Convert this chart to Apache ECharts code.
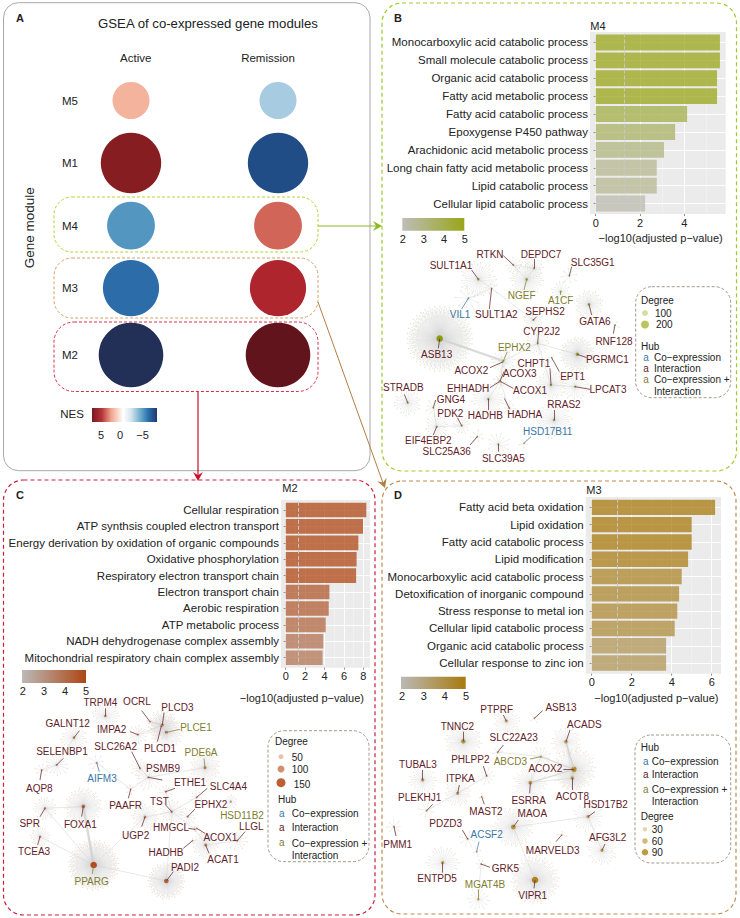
<!DOCTYPE html>
<html><head><meta charset="utf-8">
<style>html,body{margin:0;padding:0;background:#fff}#c{width:740px;height:918px}</style>
<script src="https://cdn.jsdelivr.net/npm/echarts@6/dist/echarts.min.js"></script>
</head><body><div id="c"></div>
<script>
// ---------- Panel A values ----------
const moduleNames = ['M5','M1','M4','M3','M2'];
const conditions = ['Active','Remission'];
const nesActive = [1.86,5.2,-3.4,-4.6,-5.8];
const nesRemission = [-1.86,-5.2,3.4,4.6,5.8];
const nesTicks = ['5','0','−5'];
// ---------- Bar panels ----------
const termsB = ['Monocarboxylic acid catabolic process','Small molecule catabolic process','Organic acid catabolic process','Fatty acid metabolic process','Fatty acid catabolic process','Epoxygense P450 pathway','Arachidonic acid metabolic process','Long chain fatty acid metabolic process','Lipid catabolic process','Cellular lipid catabolic process'];
const valuesB = [5.6,5.6,5.47,5.47,4.12,3.58,3.08,2.75,2.75,2.23];
const termsC = ['Cellular respiration','ATP synthsis coupled electron transport','Energy derivation by oxidation of organic compounds','Oxidative phosphorylation','Respiratory electron transport chain','Electron transport chain','Aerobic respiration','ATP metabolic process','NADH dehydrogenase complex assembly','Mitochondrial respiratory chain complex assembly'];
const valuesC = [8.3,7.96,7.48,7.3,7.25,4.5,4.43,4.12,3.87,3.8];
const termsD = ['Fatty acid beta oxidation','Lipid oxidation','Fatty acid catabolic process','Lipid modification','Monocarboxylic acid catabolic process','Detoxification of inorganic compound','Stress response to metal ion','Cellular lipid catabolic process','Organic acid catabolic process','Cellular response to zinc ion'];
const valuesD = [6.17,5.0,5.0,4.82,4.5,4.37,4.28,4.15,3.72,3.72];
const pThreshold = 1.3;
// ---------- Networks: gene, kind (c co-expression, i interaction, b both), degree ----------
const genesB = ['SULT1A1','RTKN','DEPDC7','SLC35G1','NGEF','A1CF','VIL1','SULT1A2','SEPHS2','GATA6','RNF128','ASB13','CYP2J2','EPHX2','PGRMC1','ACOX2','ACOX3','CHPT1','EPT1','ACOX1','EHHADH','LPCAT3','STRADB','GNG4','PDK2','HADHB','HADHA','RRAS2','HSD17B11','EIF4EBP2','SLC25A36','SLC39A5'];
const kindsB = ['i','i','i','i','b','b','c','i','i','i','i','i','i','b','i','i','i','i','i','i','i','i','i','i','i','i','i','i','c','i','i','i'];
const degreesB = [35,12,18,8,40,16,9,5,18,38,4,200,22,22,70,6,10,36,3,5,4,24,26,9,14,30,8,36,5,20,7,14];
const genesC = ['TRPM4','OCRL','PLCD3','GALNT12','IMPA2','PLCE1','PLCD1','SELENBP1','SLC26A2','PDE6A','AIFM3','PSMB9','AQP8','ETHE1','SLC4A4','PAAFR','TST','EPHX2','SPR','FOXA1','UGP2','HSD11B2','HMGCL','LLGL','ACOX1','HADHB','ACAT1','TCEA3','PPARG','PADI2'];
const kindsC = ['i','i','i','i','i','b','i','i','i','b','c','i','i','i','i','i','i','i','i','i','i','b','i','i','i','i','i','i','b','i'];
const degreesC = [28,5,45,26,15,50,20,16,14,40,8,18,8,10,10,6,24,12,24,65,30,12,4,14,4,4,36,22,150,90];
const genesD = ['PTPRF','ASB13','TNNC2','ACADS','SLC22A23','PHLPP2','ABCD3','TUBAL3','ACOX2','ITPKA','ACOT8','ESRRA','PLEKHJ1','MAST2','MAOA','HSD17B2','PDZD3','ACSF2','PMM1','MARVELD3','AFG3L2','GRK5','ENTPD5','MGAT4B','VIPR1'];
const kindsD = ['i','i','i','i','i','i','b','i','i','i','i','i','i','i','i','i','i','c','i','i','i','i','i','b','i'];
const degreesD = [26,4,50,34,6,10,14,28,70,28,34,38,8,3,55,28,8,4,8,4,28,6,30,14,90];
const linksB = [['ASB13','EPHX2',2.2],['SULT1A1','SULT1A2'],['SULT1A2','SEPHS2'],['RTKN','NGEF'],['DEPDC7','NGEF'],['RTKN','DEPDC7'],['CYP2J2','CHPT1'],['EPHX2','ACOX3'],['CYP2J2','EPHX2'],['CHPT1','LPCAT3'],['ACOX3','HADHB'],['ACOX3','HADHA'],['PDK2','EIF4EBP2'],['VIL1','SULT1A2'],['PGRMC1','CYP2J2'],['GNG4','EIF4EBP2'],['ACOX1','ACOX2']];
const linksC = [['PPARG','FOXA1',2.4],['PPARG','PADI2'],['PPARG','UGP2'],['PPARG','SPR'],['PPARG','TCEA3'],['FOXA1','SPR'],['IMPA2','PLCD3'],['PSMB9','PDE6A'],['PAAFR','PSMB9'],['ETHE1','TST'],['TST','UGP2'],['TST','HMGCL'],['HMGCL','ACAT1'],['PADI2','TST'],['SLC26A2','PSMB9'],['OCRL','PLCD3',1.2],['PLCD1','PLCE1',1.2],['ACAT1','LLGL'],['AIFM3','PAAFR'],['SLC4A4','TST'],['AQP8','SELENBP1'],['GALNT12','SELENBP1']];
const linksD = [['ACOX2','ACOT8',1.6],['ACOX2','ACADS',1.6],['ACOX2','ABCD3',1.2],['ESRRA','ACOX2',1.2],['ABCD3','SLC22A23'],['MAOA','HSD17B2'],['MAOA','VIPR1'],['ESRRA','ACOT8'],['ACADS','ACOT8'],['PHLPP2','ITPKA'],['ITPKA','PLEKHJ1'],['HSD17B2','AFG3L2'],['ABCD3','ESRRA'],['GRK5','MGAT4B']];

// ---------- Layout (zoom-crop units: page = origin + unit/3): label x,y, hub x,y, fan radius, leader end x,y ----------
const layoutB = [[243,92,325,133,55,305,105],[360,58,430,90,25,400,62],[513,57,492,100,30,492,72],[668,82,598,122,25,605,95],[455,181,470,133,50,462,165],[572,197,572,170,30,572,180],[270,239,295,190,40,275,222],[379,237,365,160,20,358,222],[525,229,490,255,30,500,245],[675,260,657,208,42,665,240],[732,319,735,270,15,730,296],[200,359,209,311,98,205,340],[515,288,503,325,35,505,300],[433,337,400,378,35,412,350],[712,374,622,358,52,650,368],[304,407,398,381,15,360,398],[449,416,390,438,20,402,410],[492,385,543,450,45,540,400],[608,424,545,368,10,568,410],[480,466,392,440,15,430,460],[294,459,388,440,10,360,458],[714,463,615,455,40,660,463],[100,457,113,503,40,103,478],[243,494,190,518,25,197,495],[241,535,275,572,25,262,548],[346,541,355,492,50,355,525],[464,538,418,520,20,403,490],[582,509,552,555,55,552,525],[533,588,462,625,15,483,605],[175,617,200,575,35,190,600],[230,650,322,605,20,300,630],[400,669,385,628,35,385,650]];
const layoutC = [[301,38,316,78,40,316,55],[411,34,450,95,10,425,62],[532,51,487,105,45,492,68],[203,101,222,143,40,238,122],[335,118,414,134,30,390,125],[588,113,499,127,50,540,118],[480,175,484,108,30,472,155],[186,185,170,225,35,190,205],[347,168,420,235,30,395,185],[603,188,615,233,45,612,205],[306,264,290,218,25,298,245],[489,234,445,262,40,487,270],[118,295,125,240,20,120,270],[570,276,497,305,20,525,295],[685,288,590,322,20,622,295],[377,345,392,298,15,385,325],[478,335,515,365,35,497,345],[633,344,563,380,25,585,357],[89,399,135,355,35,120,380],[241,402,250,349,55,245,380],[407,437,435,381,40,425,410],[726,376,692,335,20,692,335],[513,412,585,418,10,565,415],[754,409,712,452,30,735,425],[661,442,590,415,10,615,430],[498,487,578,452,10,550,475],[669,509,617,465,40,627,490],[102,483,120,440,30,113,465],[275,573,281,525,75,277,552],[555,533,499,573,55,520,545]];
const layoutD = [[365,59,394,93,40,385,75],[558,51,478,85,15,503,62],[247,108,265,154,55,265,125],[628,104,573,155,45,585,120],[416,143,368,187,15,385,165],[286,209,335,258,25,325,228],[406,214,498,200,30,465,207],[129,224,143,270,42,143,240],[511,235,597,238,65,565,238],[256,264,248,310,40,253,285],[592,318,592,264,40,592,300],[461,331,466,278,50,464,310],[134,323,155,362,25,173,343],[333,364,320,320,10,328,343],[472,370,415,411,60,430,390],[692,344,639,380,45,660,365],[212,400,278,447,25,262,420],[335,432,305,485,15,312,455],[68,463,57,410,22,63,438],[533,481,560,435,15,543,455],[698,441,681,481,45,690,462],[391,535,318,522,15,345,532],[186,566,203,518,50,203,548],[330,582,310,628,35,310,598],[473,617,480,570,72,477,595]];

// ---------- Styles & helpers ----------
const FONT='"Liberation Sans",Arial,sans-serif';
const KIND={c:'#3a77a5',i:'#5f2228',b:'#7f7d30'};
const lerp=(t,a,b)=>echarts.color.lerp(Math.max(0,Math.min(1,t)),[a,b]);
const G=[];
const txt=(x,y,s,o={})=>G.push({type:'text',silent:true,z:50,x,y,rotation:o.rot||0,style:{text:s,x:0,y:0,fill:o.color||'#222',font:`${o.weight||'normal'} ${o.size||10}px ${FONT}`,align:o.align||'left',verticalAlign:'middle'}});
const rrect=(x0,y0,x1,y1,r,color,dash,w)=>G.push({type:'rect',silent:true,z:-2,shape:{x:x0,y:y0,width:x1-x0,height:y1-y0,r},style:{fill:'none',stroke:color,lineWidth:w||1,lineDash:dash||null}});
const bg=(x0,y0,x1,y1)=>G.push({type:'rect',silent:true,z:-1,shape:{x:x0,y:y0,width:x1-x0,height:y1-y0},style:{fill:'#ebebeb'}});
const line=(pts,color,w)=>G.push({type:'polyline',silent:true,z:40,shape:{points:pts},style:{stroke:color,lineWidth:w||1,fill:'none'}});
const head=(tip,dx,dy,color,s)=>{const L=Math.hypot(dx,dy),ux=dx/L,uy=dy/L,px=-uy,py=ux,sz=s||9;
  G.push({type:'polygon',silent:true,z:41,shape:{points:[tip,[tip[0]-ux*sz+px*sz*.55,tip[1]-uy*sz+py*sz*.55],[tip[0]-ux*sz*.65,tip[1]-uy*sz*.65],[tip[0]-ux*sz-px*sz*.55,tip[1]-uy*sz-py*sz*.55]]},style:{fill:color}});};
const dot=(x,y,d,c)=>G.push({type:'circle',silent:true,z:45,shape:{cx:x,cy:y,r:d/2},style:{fill:c}});
const cbar=(x0,y0,x1,y1,stops,labels,ly)=>{G.push({type:'rect',silent:true,z:10,shape:{x:x0,y:y0,width:x1-x0,height:y1-y0},style:{fill:{type:'linear',x:0,y:0,x2:1,y2:0,global:false,colorStops:stops.map(s=>({offset:s[0],color:s[1]}))}}});
  labels.forEach(l=>txt(l[0],ly,l[1],{align:'center',size:11}));};

// frames
rrect(3.5,2.7,370,470.7,15,'#a9a9a9',null,1);
rrect(54,197,318,252,18,'#b5d334',[3,2],1);
rrect(54,258,318,318,18,'#d2a06c',[3,2],1);
rrect(54,322,318,391.5,20,'#d9314a',[3,2],1);
rrect(382,3,736.5,471,20,'#9ccb2d',[4,3],1.2);
rrect(3.5,480,375,915,20,'#c9213c',[4,3],1.2);
rrect(382,481,736,914,20,'#c08a4f',[4,3],1.2);
// arrows
line([[318,226],[378,226]],'#8bb920',1.2);head([382,226],1,0,'#8bb920');
line([[198,392],[198,476]],'#c8102e',1.2);head([198,481],0,1,'#c8102e');
line([[318,302],[383,483]],'#b07f45',1);head([385,488],.358,1,'#b07f45');
// panel letters & titles
txt(20,18,'A',{weight:'bold',size:11,align:'center'});txt(398,18,'B',{weight:'bold',size:11,align:'center'});
txt(20,495,'C',{weight:'bold',size:11,align:'center'});txt(398,495,'D',{weight:'bold',size:11,align:'center'});
txt(598,26,'M4',{size:11,align:'center'});txt(290,488,'M2',{size:11,align:'center'});txt(594,490,'M3',{size:11,align:'center'});
// plot backgrounds
bg(590,32,725.7,214);bg(281,500,370,667.7);bg(585.7,497,721,673.7);
// colourbars
cbar(92,408,157,422,[[0,'#7a1a20'],[.15,'#b5343a'],[.3,'#f0a98f'],[.48,'#ffffff'],[.6,'#d5e6ef'],[.8,'#4a94bf'],[.87,'#2c6ca9'],[1,'#22396f']],[[101,nesTicks[0]],[120,nesTicks[1]],[142.5,nesTicks[2]]],435);
txt(72,414,'NES',{size:11.5,align:'center'});
const cbarTicks=['2','3','4','5'];
cbar(402.3,218,464.3,230.7,[[0,'#bebdb9'],[1,'#98a618']],[402.7,423.7,444,464.7].map((x,i)=>[x,cbarTicks[i]]),239);
cbar(22,670,86,683,[[0,'#bbb9b7'],[1,'#ad4714']],[22.7,44,65,86].map((x,i)=>[x,cbarTicks[i]]),691);
cbar(401,676.7,465.7,689,[[0,'#bbb9b7'],[1,'#a87a0e']],[402,423.7,444.7,466].map((x,i)=>[x,cbarTicks[i]]),696);
// legends
const LG='#9a8c7c';
rrect(635.7,286.7,730.7,397.7,16,LG,[3,2],.9);
txt(641,300,'Degree');dot(645,313,6,'#d8dca0');txt(655,313,'100');dot(645,324.5,8,'#bcc45e');txt(656,324.5,'200');
txt(641,346,'Hub');
[[357.5,'c','Co−expression'],[368,'i','Interaction'],[379.5,'b','Co−expression +']].forEach(r=>{txt(646,r[0],'a',{color:KIND[r[1]],align:'center'});txt(654,r[0],r[2]);});txt(654,391,'Interaction');
rrect(268,730.7,369,861.7,16,LG,[3,2],.9);
txt(275,741,'Degree');dot(281,756.7,5,'#e6c2ac');txt(291.7,757,'50');dot(281,769,7,'#d29070');txt(291.7,769,'100');dot(281,782.7,9,'#bd5f35');txt(293.7,784,'150');
txt(278,799,'Hub');
[[813,'c','Co−expression'],[827.7,'i','Interaction'],[842,'b','Co−expression +']].forEach(r=>{txt(281.7,r[0],'a',{color:KIND[r[1]],align:'center'});txt(291.7,r[0]+(r[1]==='b'?1:0),r[2]);});txt(291.7,855,'Interaction');
rrect(635,735,730.7,863,16,LG,[3,2],.9);
txt(640.7,747.7,'Hub');
[[761.7,'c','Co−expression'],[774.7,'i','Interaction'],[789.3,'b','Co−expression +']].forEach(r=>{txt(645.7,r[0],'a',{color:KIND[r[1]],align:'center'});txt(651.7,r[0],r[2]);});txt(651.7,801.3,'Interaction');
txt(640.7,816,'Degree');
dot(645,829.3,4.5,'#e8d6ab');txt(651.7,829.3,'30');dot(645,841,5.5,'#d4b878');txt(651.7,841,'60');dot(645,852.3,6.5,'#c09a40');txt(651.7,852.3,'90');

// ---------- Bubble panel ----------
const nesStops=[[-5.8,'#222f57'],[-5.2,'#204d85'],[-4.6,'#2c6ca9'],[-3.4,'#5396c0'],[-1.86,'#a7cbe0'],[0,'#ffffff'],[1.86,'#f4b39d'],[3.4,'#d16558'],[4.6,'#ae252e'],[5.2,'#861d21'],[5.8,'#62141c']];
function nesColor(v){if(v<=nesStops[0][0])return nesStops[0][1];for(let i=1;i<nesStops.length;i++){if(v<=nesStops[i][0]){const a=nesStops[i-1],b=nesStops[i];return lerp((v-a[0])/(b[0]-a[0]),a[1],b[1]);}}return '#62141c';}
const rowPos=[0,1,2,3,4.07];
const bubbleData=[];
moduleNames.forEach((m,i)=>{bubbleData.push([0,rowPos[i],nesActive[i]]);bubbleData.push([1,rowPos[i],nesRemission[i]]);});

// ---------- Bars ----------
function barPanel(idx,terms,vals,high,low,box,xMax,xName,namePad){
  return {
    grid:{left:box[0],top:box[1],width:box[2]-box[0],height:box[3]-box[1]},
    x:{type:'value',gridIndex:idx,min:0,max:xMax,interval:2,offset:box[4]||0,name:xName,nameLocation:'middle',nameGap:box[5],
       nameTextStyle:{fontFamily:FONT,fontSize:11,color:'#222',padding:namePad||0},
       axisLine:{show:false},axisTick:{show:true,length:2,lineStyle:{color:'#666',width:.7}},
       axisLabel:{fontFamily:FONT,fontSize:11,color:'#222',margin:3,showMaxLabel:false,showMinLabel:true,formatter:v=>(v%2===0?String(v):'')},
       splitLine:{show:true,showMaxLine:false,lineStyle:{color:'#fff',width:.9}},
       minorTick:{show:false,splitNumber:2},minorSplitLine:{show:true,lineStyle:{color:'#f6f6f6',width:.5}}},
    y:{type:'category',gridIndex:idx,inverse:true,data:terms,offset:box[6],
       axisLine:{show:false},axisTick:{show:true,length:2,alignWithLabel:true,lineStyle:{color:'#666',width:.7}},
       axisLabel:{fontFamily:FONT,fontSize:box[7],color:'#222',margin:2,interval:0},splitLine:{show:false}},
    s:[
     {type:'line',xAxisIndex:idx,yAxisIndex:idx,data:[],silent:true,z:1,markLine:{z:1,silent:true,symbol:'none',animation:false,label:{show:false},lineStyle:{color:'#fff',width:.9,type:'solid'},data:terms.map(t=>({yAxis:t}))}},
     {type:'bar',xAxisIndex:idx,yAxisIndex:idx,name:'-log10(adjusted p-value)',z:3,barWidth:'89%',data:vals,
      itemStyle:{opacity:.75,color:p=>lerp((p.value-2)/3,low,high)}},
     {type:'line',xAxisIndex:idx,yAxisIndex:idx,data:[],silent:true,z:6,markLine:{z:6,silent:true,symbol:'none',animation:false,label:{show:false},lineStyle:{color:'#c6c6c6',width:1,type:[4,2]},data:[{xAxis:pThreshold}]}}
    ]
  };
}
const pB=barPanel(2,termsB,valuesB,'#98a618','#bebdb9',[595.7,33.5,725.7,212.5,1.5,18,5.7,11.5],5.86,'−log10(adjusted p−value)');
const pC=barPanel(3,termsC,valuesC,'#ad4714','#bbb9b7',[285.7,501.8,370,665.9,1.8,25,4.7,11.5],8.68,'−log10(adjusted p−value)',[0,52,0,0]);
const pD=barPanel(4,termsD,valuesD,'#a87a0e','#bbb9b7',[591.7,498.7,721,671.7,2,19,6,11.5],6.465,'−log10(adjusted p−value)');

// ---------- Networks ----------
function net(genes,kinds,degs,lay,links,ox,oy,leafC,hubLo,hubHi,maxDeg){
  const X=u=>ox+u/3,Y=u=>oy+u/3;
  const nodes=[],edges=[],labels=[],leaders=[],hubIndex={};
  genes.forEach((g,i)=>{const L=lay[i],n=degs[i],hx=X(L[2]),hy=Y(L[3]),r=L[4]/3;
    const hub=nodes.length+n;
    for(let k=0;k<n;k++){const a=2*Math.PI*k/n+i,f=[1,.82,.93,.7,.88][k%5];
      nodes.push({name:'n'+nodes.length,value:[hx+Math.cos(a)*r*f,hy+Math.sin(a)*r*f],symbolSize:1.1,itemStyle:{color:leafC,opacity:.8}});
      edges.push({source:nodes.length-1,target:hub});}
    hubIndex[g]=hub;
    nodes.push({name:'n'+nodes.length,value:[hx,hy],symbolSize:1.4+5.2*Math.pow(n/maxDeg,.9),itemStyle:{color:lerp(n/maxDeg,hubLo,hubHi)}});
    labels.push({name:g,value:[X(L[0]),Y(L[1])],itemStyle:{opacity:1},label:{show:true,formatter:g,position:'inside',opacity:1,fontFamily:FONT,fontSize:10,color:KIND[kinds[i]]}});
    if(L[5]!==L[2]||L[6]!==L[3])leaders.push({coords:[[hx,hy],[X(L[5]),Y(L[6])]],lineStyle:{color:KIND[kinds[i]],width:.8,opacity:.9}});
  });
  links.forEach(l=>edges.push({source:hubIndex[l[0]],target:hubIndex[l[1]],lineStyle:{width:l[2]||.6,color:'#cfcfcf',opacity:.8}}));
  return [
   {type:'graph',coordinateSystem:'cartesian2d',xAxisIndex:1,yAxisIndex:1,layout:'none',silent:true,animation:false,z:4,data:nodes,
    links:edges.map(e=>({source:nodes[e.source].name,target:nodes[e.target].name,lineStyle:e.lineStyle})),lineStyle:{color:'#d6d6d6',width:.45,opacity:.8}},
   {type:'lines',coordinateSystem:'cartesian2d',xAxisIndex:1,yAxisIndex:1,silent:true,z:5,animation:false,data:leaders},
   {type:'scatter',xAxisIndex:1,yAxisIndex:1,silent:true,z:7,symbolSize:0,itemStyle:{opacity:1},animation:false,data:labels}
  ];
}
const netB=net(genesB,kindsB,degreesB,layoutB,linksB,370,235,'#dcdeb8','#9aa05a','#8a9c10',200);
const netC=net(genesC,kindsC,degreesC,layoutC,linksC,0,690,'#eed4c6','#b98a74','#b5481e',150);
const netD=net(genesD,kindsD,degreesD,layoutD,linksD,375,690,'#ecdfc2','#c0a670','#b0821c',90);

const option={
  animation:false,backgroundColor:'#fff',
  title:{text:'GSEA of co-expressed gene modules',left:208,top:17,padding:0,textAlign:'center',textStyle:{fontFamily:FONT,fontSize:13.2,fontWeight:'normal',color:'#222'}},
  graphic:{elements:G},
  grid:[{left:131,top:100.5,width:147,height:254.5},{left:0,top:0,width:740,height:918},pB.grid,pC.grid,pD.grid],
  xAxis:[
   {type:'value',gridIndex:0,min:0,max:1,position:'top',offset:37,axisLine:{show:false},axisTick:{show:false},splitLine:{show:false},
    axisLabel:{customValues:[.032,.932],margin:0,fontFamily:FONT,fontSize:11.5,color:'#222',formatter:v=>(v<.5?conditions[0]:conditions[1])}},
   {type:'value',gridIndex:1,min:0,max:740,show:false},pB.x,pC.x,pD.x],
  yAxis:[
   {type:'value',gridIndex:0,min:0,max:4.07,inverse:true,offset:53,name:'Gene module',nameLocation:'middle',nameRotate:90,nameGap:42,
    nameTextStyle:{fontFamily:FONT,fontSize:13.5,color:'#222'},axisLine:{show:false},axisTick:{show:false},splitLine:{show:false},
    axisLabel:{customValues:rowPos,margin:0,fontFamily:FONT,fontSize:11.5,color:'#222',formatter:v=>moduleNames[rowPos.indexOf(v)]}},
   {type:'value',gridIndex:1,min:0,max:918,inverse:true,show:false},pB.y,pC.y,pD.y],
  series:[
   {type:'scatter',name:'NES',xAxisIndex:0,yAxisIndex:0,z:3,data:bubbleData,symbolSize:v=>24+7*Math.abs(v[2]),itemStyle:{opacity:1,color:p=>nesColor(p.value[2])}},
   ...pB.s,...pC.s,...pD.s,...netB,...netC,...netD
  ]
};
const chart=echarts.init(document.getElementById('c'),null,{renderer:'svg',width:740,height:918});
chart.setOption(option);
</script></body></html>
